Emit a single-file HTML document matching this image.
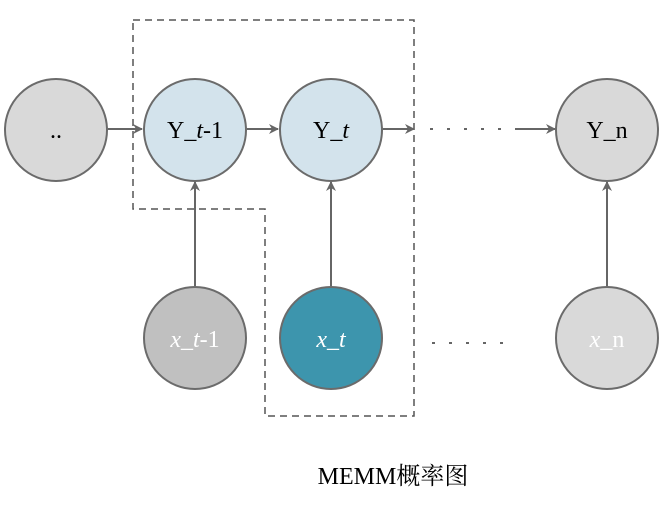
<!DOCTYPE html>
<html><head><meta charset="utf-8"><style>body{margin:0;background:#fff}</style></head><body>
<svg width="666" height="512" xmlns="http://www.w3.org/2000/svg" font-family="'Liberation Serif','Noto Serif CJK SC',serif">
<defs><marker id="a" markerWidth="10" markerHeight="10" refX="9" refY="5" orient="auto" markerUnits="userSpaceOnUse"><path d="M0,0 L10,5 L0,10 L3,5 Z" fill="#666"/></marker></defs>
<path d="M133,20 H414 V416 H265 V209 H133 Z" fill="none" stroke="#555" stroke-width="1.5" stroke-dasharray="7,5"/>
<g stroke="#666" stroke-width="2" fill="none">
<line x1="108" y1="129" x2="142" y2="129" marker-end="url(#a)"/>
<line x1="247" y1="129" x2="278" y2="129" marker-end="url(#a)"/>
<line x1="383" y1="129" x2="414" y2="129" marker-end="url(#a)"/>
<line x1="430" y1="129" x2="515" y2="129" stroke-dasharray="3,14"/>
<line x1="515" y1="129" x2="555" y2="129" marker-end="url(#a)"/>
<line x1="195" y1="286" x2="195" y2="182" marker-end="url(#a)"/>
<line x1="331" y1="286" x2="331" y2="182" marker-end="url(#a)"/>
<line x1="607" y1="286" x2="607" y2="182" marker-end="url(#a)"/>
<line x1="432" y1="343" x2="515" y2="343" stroke-dasharray="3,14"/>
</g>
<g stroke="#6b6b6b" stroke-width="2">
<circle cx="56" cy="130" r="51" fill="#d9d9d9"/>
<circle cx="195" cy="130" r="51" fill="#d3e3ec"/>
<circle cx="331" cy="130" r="51" fill="#d3e3ec"/>
<circle cx="607" cy="130" r="51" fill="#d9d9d9"/>
<circle cx="195" cy="338" r="51" fill="#c0c0c0"/>
<circle cx="331" cy="338" r="51" fill="#3d95ad"/>
<circle cx="607" cy="338" r="51" fill="#d9d9d9"/>
</g>
<g font-size="24" text-anchor="middle">
<text x="56" y="138" fill="#000">..</text>
<text x="195" y="138">Y_<tspan font-style="italic">t</tspan>-1</text>
<text x="331" y="138">Y_<tspan font-style="italic">t</tspan></text>
<text x="607" y="138">Y_n</text>
<text x="195" y="347" fill="#fff"><tspan font-style="italic">x</tspan>_<tspan font-style="italic">t</tspan>-1</text>
<text x="331" y="347" fill="#fff" font-style="italic">x_t</text>
<text x="607" y="347" fill="#fff"><tspan font-style="italic">x</tspan>_n</text>
<text x="393" y="484">MEMM概率图</text>
</g>
</svg>
</body></html>
